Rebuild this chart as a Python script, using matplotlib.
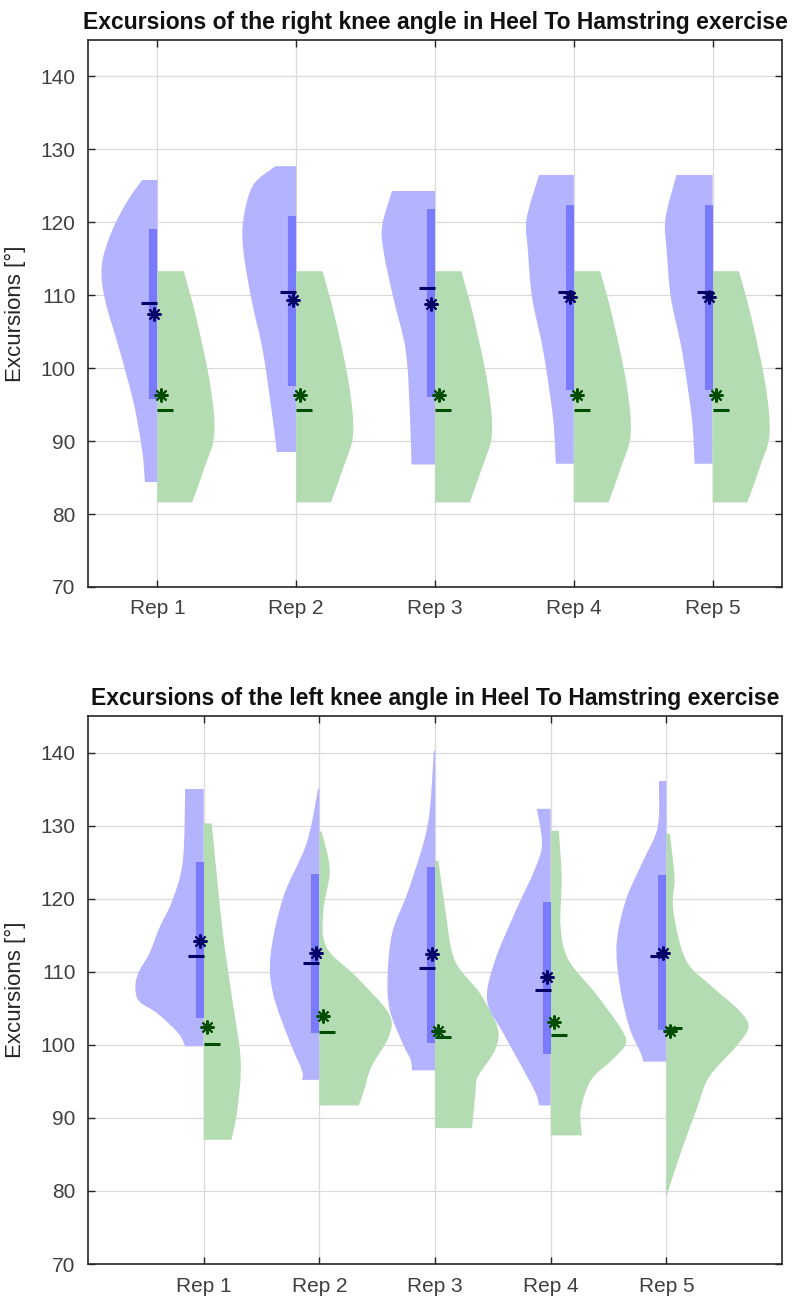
import matplotlib.pyplot as plt
import numpy as np
from matplotlib.path import Path
from matplotlib.patches import PathPatch

plt.rcParams['font.family'] = ['Liberation Sans', 'DejaVu Sans']

reps = ['Rep 1', 'Rep 2', 'Rep 3', 'Rep 4', 'Rep 5']

# ---- right knee (top panel) ----
# half-violin outlines: level (deg) and half-width (x units)
right_blue_lv = [
    [125.8, 122.8, 118.7, 114.2, 109.6, 102.3, 95.1, 88.7, 84.4],
    [127.7, 125.1, 120.5, 116.0, 109.2, 102.3, 93.2, 88.5],
    [124.3, 119.6, 116.0, 109.6, 102.3, 93.2, 86.8],
    [126.5, 120.5, 116.0, 109.6, 102.3, 93.2, 86.9],
    [126.5, 120.5, 116.0, 109.6, 102.3, 93.2, 86.9],
]
right_blue_w = [
    [0.11, 0.22, 0.33, 0.40, 0.38, 0.27, 0.17, 0.11, 0.09],
    [0.15, 0.31, 0.38, 0.38, 0.32, 0.24, 0.17, 0.14],
    [0.31, 0.38, 0.37, 0.30, 0.21, 0.18, 0.17],
    [0.25, 0.34, 0.33, 0.30, 0.22, 0.15, 0.13],
    [0.26, 0.34, 0.33, 0.30, 0.22, 0.15, 0.13],
]
right_green_lv = [[113.3, 106.9, 97.8, 91.0, 86.4, 81.6]] * 5
right_green_w = [[0.19, 0.28, 0.38, 0.41, 0.34, 0.25]] * 5

right_q1 = [95.8, 97.6, 96.0, 97.0, 97.0]
right_q3 = [119.1, 120.9, 121.8, 122.4, 122.4]
right_blue_med = [109.0, 110.5, 111.0, 110.4, 110.4]
right_blue_mean = [107.4, 109.3, 108.8, 109.8, 109.8]
right_green_med = [94.3, 94.3, 94.3, 94.3, 94.3]
right_green_mean = [96.3, 96.3, 96.3, 96.3, 96.3]

# ---- left knee (bottom panel) ----
left_blue_lv = [
    [135.0, 125.2, 119.8, 116.1, 112.5, 110.0, 108.0, 106.0, 104.3, 101.6, 99.8],
    [135.1, 127.6, 120.3, 112.5, 107.0, 100.2, 96.5, 95.2],
    [140.2, 132.1, 127.6, 120.7, 115.3, 109.3, 104.7, 100.2, 97.9, 96.5],
    [132.3, 127.6, 124.3, 118.4, 111.6, 106.1, 101.6, 97.0, 93.4, 91.7],
    [136.1, 129.8, 125.2, 119.8, 113.8, 107.9, 102.4, 98.8, 97.7],
]
left_blue_w = [
    [0.16, 0.18, 0.27, 0.38, 0.47, 0.56, 0.59, 0.56, 0.40, 0.22, 0.16],
    [0.01, 0.11, 0.31, 0.42, 0.40, 0.25, 0.15, 0.15],
    [0.01, 0.045, 0.10, 0.24, 0.37, 0.41, 0.39, 0.28, 0.21, 0.20],
    [0.12, 0.075, 0.13, 0.30, 0.48, 0.55, 0.41, 0.25, 0.13, 0.10],
    [0.064, 0.075, 0.20, 0.35, 0.43, 0.40, 0.32, 0.22, 0.20],
]
left_green_lv = [
    [130.3, 116.1, 107.0, 97.9, 91.0, 87.0],
    [129.2, 123.9, 118.4, 113.4, 109.3, 104.3, 101.1, 97.0, 93.4, 91.7],
    [125.2, 118.4, 111.6, 107.0, 102.4, 99.3, 95.6, 93.4, 88.6],
    [129.3, 123.0, 116.1, 111.6, 107.0, 102.4, 100.2, 97.9, 95.2, 91.1, 87.6],
    [128.9, 123.0, 118.4, 111.6, 107.9, 104.7, 102.4, 99.7, 95.6, 91.1, 85.0, 79.2],
]
left_green_w = [
    [0.07, 0.16, 0.24, 0.32, 0.29, 0.24],
    [0.02, 0.09, 0.035, 0.06, 0.32, 0.60, 0.60, 0.45, 0.38, 0.34],
    [0.03, 0.09, 0.17, 0.39, 0.54, 0.52, 0.37, 0.35, 0.32],
    [0.07, 0.095, 0.086, 0.155, 0.39, 0.60, 0.65, 0.53, 0.35, 0.26, 0.27],
    [0.03, 0.07, 0.06, 0.17, 0.40, 0.63, 0.71, 0.60, 0.37, 0.26, 0.12, 0.0],
]

left_q1 = [103.6, 101.6, 100.2, 98.8, 102.0]
left_q3 = [125.0, 123.4, 124.3, 119.5, 123.2]
left_blue_med = [112.1, 111.2, 110.5, 107.5, 112.2]
left_blue_mean = [114.2, 112.6, 112.4, 109.3, 112.5]
left_green_med = [100.1, 101.8, 101.1, 101.3, 102.3]
left_green_mean = [102.4, 103.9, 101.9, 103.1, 101.9]

blue_fill = '#b3b3ff'
green_fill = '#b3dcb3'
iqr_col = '#7a7aff'
blue_dark = '#000066'
green_dark = '#004d00'


def half_violin(ax, c, lv, w, side, color):
    # outline through the read points, drawn as a smooth bezier path
    pts = [np.array([c + side * wi, v]) for wi, v in zip(w, lv)]
    verts = [(c, lv[0]), tuple(pts[0])]
    codes = [Path.MOVETO, Path.LINETO]
    n = len(pts)
    for i in range(n - 1):
        p0 = pts[i - 1] if i > 0 else pts[i]
        p1 = pts[i]
        p2 = pts[i + 1]
        p3 = pts[i + 2] if i + 2 < n else pts[i + 1]
        verts += [tuple(p1 + (p2 - p0) / 6), tuple(p2 - (p3 - p1) / 6), tuple(p2)]
        codes += [Path.CURVE4] * 3
    verts += [(c, lv[-1]), (c, lv[0])]
    codes += [Path.LINETO, Path.CLOSEPOLY]
    ax.add_patch(PathPatch(Path(verts, codes), facecolor=color, lw=0, zorder=2))


def panel(ax, title, blv, bw, glv, gw, q1, q3, bmed, bmean, gmed, gmean, xlim, px_per_unit):
    pos = np.arange(1, 6)
    for i, c in enumerate(pos):
        half_violin(ax, c, blv[i], bw[i], -1, blue_fill)
        half_violin(ax, c, glv[i], gw[i], 1, green_fill)
        off = 4.0 / px_per_unit
        dl = 16.0 / px_per_unit
        ax.plot([c - off, c - off], [q1[i], q3[i]], color=iqr_col, lw=5.8,
                solid_capstyle='butt', zorder=3)
        ax.plot([c - dl, c], [bmed[i], bmed[i]], color=blue_dark, lw=2.2,
                solid_capstyle='butt', zorder=4)
        ax.plot([c, c + dl], [gmed[i], gmed[i]], color=green_dark, lw=2.2,
                solid_capstyle='butt', zorder=4)
        ax.plot(c - 3.5 / px_per_unit, bmean[i], marker=(8, 2, 0), ms=10,
                mew=1.5, color=blue_dark, zorder=5)
        ax.plot(c + 3.5 / px_per_unit, gmean[i], marker=(8, 2, 0), ms=10,
                mew=1.5, color=green_dark, zorder=5)
    ax.set_xlim(*xlim)
    ax.set_ylim(70, 145)
    ax.set_xticks(pos)
    ax.set_xticklabels(reps)
    ax.set_yticks(np.arange(70, 141, 10))
    ax.grid(True, color='#dadada', lw=0.9, zorder=0)
    ax.set_axisbelow(True)
    ax.tick_params(direction='in', top=True, right=True, length=5, width=1,
                   labelsize=15, colors='#262626', labelcolor='#404040', pad=9)
    for s in ax.spines.values():
        s.set_color('#262626')
        s.set_linewidth(1.2)
    ax.set_ylabel('Excursions [°]', fontsize=16, color='#262626', labelpad=10)
    ax.set_title(title, fontsize=16.5, fontweight='bold', color='#111111', pad=8)


fig = plt.figure(figsize=(8.02, 13.01), dpi=100)
ax1 = fig.add_axes([88 / 802, (1301 - 587) / 1301, 694 / 802, 547 / 1301])
ax2 = fig.add_axes([88 / 802, (1301 - 1264) / 1301, 694 / 802, 548 / 1301])

panel(ax1, 'Excursions of the right knee angle in Heel To Hamstring exercise',
      right_blue_lv, right_blue_w, right_green_lv, right_green_w,
      right_q1, right_q3, right_blue_med, right_blue_mean,
      right_green_med, right_green_mean, (0.5, 5.5), 138.75)
panel(ax2, 'Excursions of the left knee angle in Heel To Hamstring exercise',
      left_blue_lv, left_blue_w, left_green_lv, left_green_w,
      left_q1, left_q3, left_blue_med, left_blue_mean,
      left_green_med, left_green_mean, (0, 6), 115.75)

fig.savefig('out.png', dpi=100)
